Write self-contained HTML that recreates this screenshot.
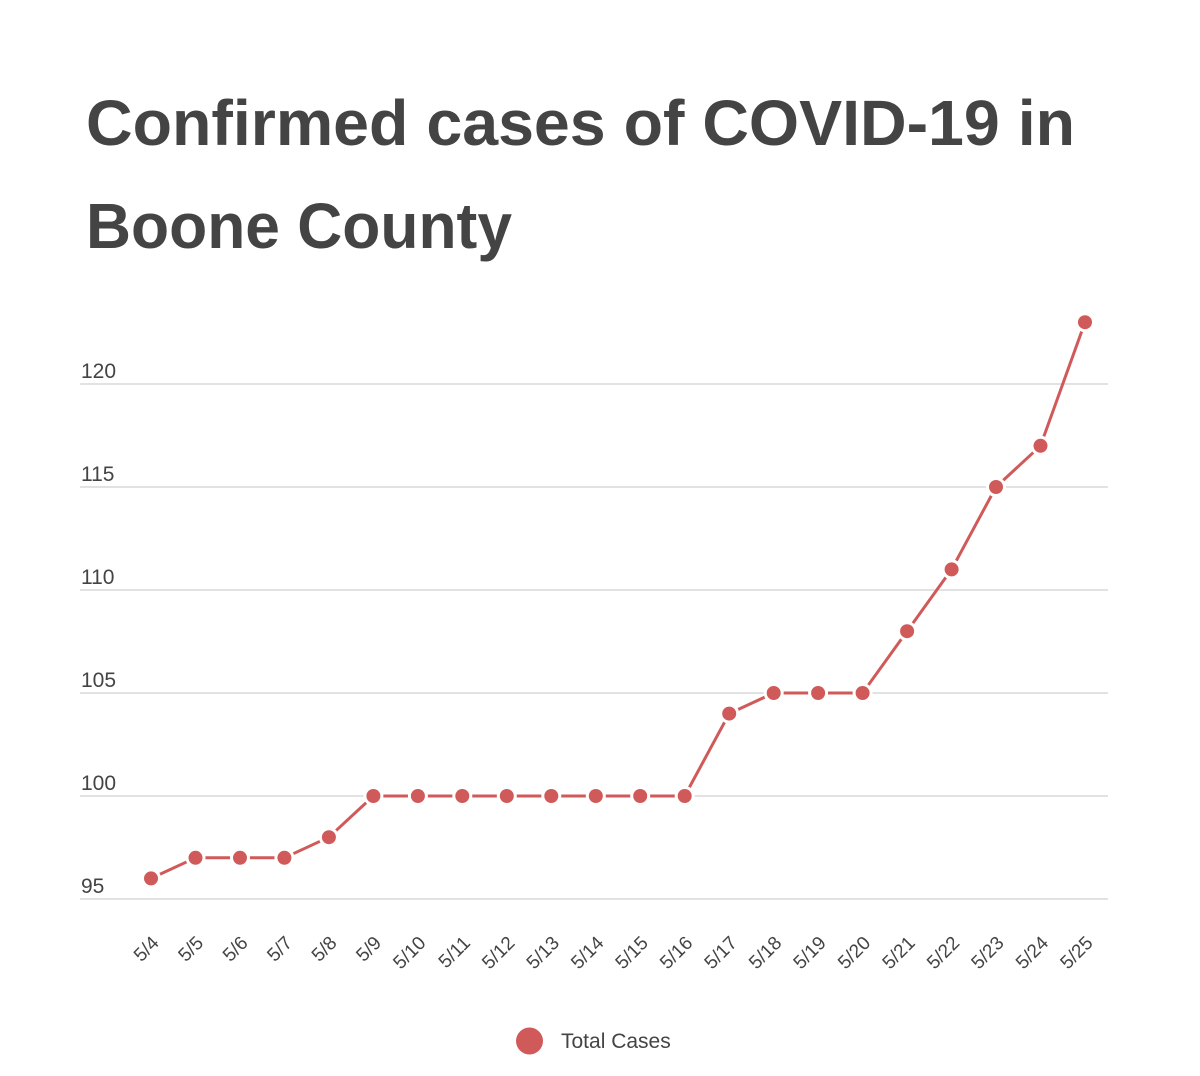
<!DOCTYPE html>
<html><head><meta charset="utf-8"><style>
html,body{margin:0;padding:0;background:#fff;width:1200px;height:1076px;overflow:hidden}
svg{display:block}
</style></head><body>
<svg width="1200" height="1076" viewBox="0 0 1200 1076" xmlns="http://www.w3.org/2000/svg" font-family="'Liberation Sans', sans-serif">
<text x="86" y="145" font-size="64" font-weight="bold" fill="#444" textLength="989" lengthAdjust="spacingAndGlyphs">Confirmed cases of COVID-19 in</text>
<text x="86" y="248" font-size="64" font-weight="bold" fill="#444" textLength="426" lengthAdjust="spacingAndGlyphs">Boone County</text>
<g stroke="#d9d9d9" stroke-width="1.5">
<line x1="80" y1="384" x2="1108" y2="384"/>
<line x1="80" y1="487" x2="1108" y2="487"/>
<line x1="80" y1="590" x2="1108" y2="590"/>
<line x1="80" y1="693" x2="1108" y2="693"/>
<line x1="80" y1="796" x2="1108" y2="796"/>
<line x1="80" y1="899" x2="1108" y2="899"/>
</g>
<g font-size="21" fill="#444">
<text x="81" y="378">120</text>
<text x="81" y="481">115</text>
<text x="81" y="584">110</text>
<text x="81" y="687">105</text>
<text x="81" y="790">100</text>
<text x="81" y="893">95</text>
</g>
<polyline fill="none" stroke="#d05a5a" stroke-width="3" stroke-linejoin="round" points="151,878.4 195.5,857.8 240,857.8 284.4,857.8 328.9,837.2 373.4,796 417.9,796 462.3,796 506.8,796 551.3,796 595.8,796 640.2,796 684.7,796 729.2,713.6 773.7,693 818.1,693 862.6,693 907.1,631.2 951.6,569.4 996,487 1040.5,445.8 1085,322.2"/>
<g fill="#d05a5a" stroke="#fff" stroke-width="6" paint-order="stroke">
<circle cx="151" cy="878.4" r="7"/><circle cx="195.5" cy="857.8" r="7"/><circle cx="240" cy="857.8" r="7"/><circle cx="284.4" cy="857.8" r="7"/><circle cx="328.9" cy="837.2" r="7"/><circle cx="373.4" cy="796" r="7"/><circle cx="417.9" cy="796" r="7"/><circle cx="462.3" cy="796" r="7"/><circle cx="506.8" cy="796" r="7"/><circle cx="551.3" cy="796" r="7"/><circle cx="595.8" cy="796" r="7"/><circle cx="640.2" cy="796" r="7"/><circle cx="684.7" cy="796" r="7"/><circle cx="729.2" cy="713.6" r="7"/><circle cx="773.7" cy="693" r="7"/><circle cx="818.1" cy="693" r="7"/><circle cx="862.6" cy="693" r="7"/><circle cx="907.1" cy="631.2" r="7"/><circle cx="951.6" cy="569.4" r="7"/><circle cx="996" cy="487" r="7"/><circle cx="1040.5" cy="445.8" r="7"/><circle cx="1085" cy="322.2" r="7"/>
</g>
<g font-size="19" fill="#444" text-anchor="end">
<text transform="translate(160,944) rotate(-45)">5/4</text>
<text transform="translate(204.5,944) rotate(-45)">5/5</text>
<text transform="translate(249,944) rotate(-45)">5/6</text>
<text transform="translate(293.4,944) rotate(-45)">5/7</text>
<text transform="translate(337.9,944) rotate(-45)">5/8</text>
<text transform="translate(382.4,944) rotate(-45)">5/9</text>
<text transform="translate(426.9,944) rotate(-45)">5/10</text>
<text transform="translate(471.3,944) rotate(-45)">5/11</text>
<text transform="translate(515.8,944) rotate(-45)">5/12</text>
<text transform="translate(560.3,944) rotate(-45)">5/13</text>
<text transform="translate(604.8,944) rotate(-45)">5/14</text>
<text transform="translate(649.2,944) rotate(-45)">5/15</text>
<text transform="translate(693.7,944) rotate(-45)">5/16</text>
<text transform="translate(738.2,944) rotate(-45)">5/17</text>
<text transform="translate(782.7,944) rotate(-45)">5/18</text>
<text transform="translate(827.1,944) rotate(-45)">5/19</text>
<text transform="translate(871.6,944) rotate(-45)">5/20</text>
<text transform="translate(916.1,944) rotate(-45)">5/21</text>
<text transform="translate(960.6,944) rotate(-45)">5/22</text>
<text transform="translate(1005,944) rotate(-45)">5/23</text>
<text transform="translate(1049.5,944) rotate(-45)">5/24</text>
<text transform="translate(1094,944) rotate(-45)">5/25</text>
</g>
<circle cx="529.5" cy="1041" r="13.5" fill="#d05a5a"/>
<text x="561" y="1048" font-size="21" fill="#444">Total Cases</text>
</svg>
</body></html>
